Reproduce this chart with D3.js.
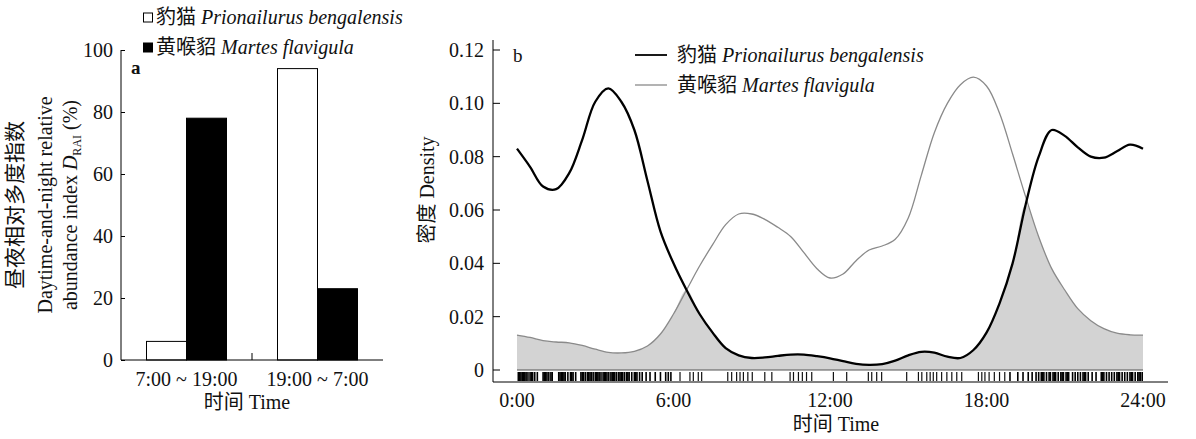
<!DOCTYPE html>
<html>
<head>
<meta charset="utf-8">
<script src="https://cdn.jsdelivr.net/npm/d3@7"></script>
<style>
  body { margin: 0; background: #fff; }
  svg { display: block; }
  text { font-family: "Liberation Serif", "Times New Roman", "Noto Sans CJK SC", serif; fill: #111; }
</style>
</head>
<body>
<svg id="chart" width="1196" height="439"></svg>
<script>
// ---- panel a data ----
const periods = ["7:00 ~ 19:00", "19:00 ~ 7:00"];
const species = ["豹猫", "黄喉貂"];
const speciesLatin = ["Prionailurus bengalensis", "Martes flavigula"];
const leopardRAI = [6, 94];
const martenRAI = [78, 23];
const raiTicks = [0, 20, 40, 60, 80, 100];

// ---- panel b data ----
const hours = [0, 0.5, 1, 1.5, 2, 2.5, 3, 3.5, 4, 4.5, 5, 5.5, 6, 6.5, 7, 7.5, 8, 8.5, 9, 9.5, 10, 10.5, 11, 11.5,
  12, 12.5, 13, 13.5, 14, 14.5, 15, 15.5, 16, 16.5, 17, 17.5, 18, 18.5, 19, 19.5, 20, 20.5, 21, 21.5, 22, 22.5, 23, 23.5, 24];
const leopardDensity = [0.083, 0.0762, 0.0688, 0.0678, 0.0738, 0.0863, 0.1006, 0.1056, 0.1006, 0.090, 0.071, 0.052,
  0.040, 0.030, 0.021, 0.014, 0.0082, 0.0055, 0.0045, 0.0047, 0.0053, 0.0058, 0.0058, 0.0052,
  0.0044, 0.0033, 0.0023, 0.0019, 0.0022, 0.0035, 0.0055, 0.0068, 0.0065, 0.005, 0.0045, 0.0075,
  0.014, 0.025, 0.040, 0.062, 0.080, 0.0900, 0.0878, 0.0835, 0.0800, 0.0796, 0.082, 0.0845, 0.083];
const martenDensity = [0.0131, 0.0122, 0.0110, 0.0105, 0.0102, 0.0092, 0.0078, 0.0066, 0.0064, 0.0070, 0.0090, 0.0135,
  0.021, 0.030, 0.039, 0.047, 0.0545, 0.0585, 0.0585, 0.0565, 0.0535, 0.050, 0.044, 0.038,
  0.0345, 0.036, 0.041, 0.045, 0.0465, 0.049, 0.057, 0.073, 0.089, 0.100, 0.107, 0.1098,
  0.1065, 0.0963, 0.081, 0.065, 0.050, 0.038, 0.030, 0.023, 0.0185, 0.0155, 0.0138, 0.0132, 0.0131];
const leopardTimes = [0.05, 0.1, 0.15, 0.2, 0.25, 0.3, 0.35, 0.42, 0.5, 0.55, 0.6, 0.68, 0.78, 1.0, 1.05, 1.1, 1.15,
  1.22, 1.3, 1.35, 1.6, 1.65, 1.7, 1.75, 1.8, 1.85, 1.95, 2.05, 2.1, 2.15, 2.25, 2.45, 2.5, 2.55, 2.62, 2.7, 2.75,
  2.8, 2.85, 2.92, 3.0, 3.05, 3.1, 3.15, 3.22, 3.3, 3.35, 3.4, 3.45, 3.52, 3.6, 3.65, 3.7, 3.75, 3.82, 3.9, 3.95,
  4.0, 4.05, 4.12, 4.2, 4.25, 4.3, 4.4, 4.5, 4.55, 4.6, 4.7, 4.8, 4.95, 5.1, 5.3, 5.5, 5.7, 5.8, 5.9,
  18.9, 19.2, 19.4, 19.6, 19.75, 19.9, 20.0, 20.1, 20.15, 20.2, 20.3, 20.4, 20.45, 20.55, 20.6, 20.65, 20.75,
  20.85, 20.9, 20.95, 21.05, 21.1, 21.15, 21.3, 21.4, 21.5, 21.6, 21.7, 21.75, 21.8, 21.9, 22.05, 22.2,
  22.4, 22.45, 22.5, 22.6, 22.7, 22.8, 22.9, 23.0, 23.05, 23.1, 23.2, 23.3, 23.4, 23.5, 23.55, 23.6, 23.7,
  23.8, 23.85, 23.9, 23.97];
const martenTimes = [6.25, 6.63, 6.76, 6.95, 7.08, 8.08, 8.23, 8.42, 8.55, 8.68, 8.85, 9.02, 9.5, 9.77,
  10.47, 10.6, 10.79, 10.94, 11.1, 11.3, 12.13, 12.64, 13.47, 13.6, 13.79, 13.98, 14.94, 15.39, 15.52,
  15.71, 15.84, 15.96, 16.09, 16.28, 16.48, 16.67, 16.86, 17.05, 17.69, 17.82, 17.94, 18.1, 18.3, 18.5, 18.7];
const hourTicks = [0, 6, 12, 18, 24];
const hourLabels = ["0:00", "6:00", "12:00", "18:00", "24:00"];
const densityTicks = [0, 0.02, 0.04, 0.06, 0.08, 0.10, 0.12];

let svg = d3.select("#chart");

// ================= panel a =================
let xa = d3.scaleBand().domain(periods).range([121, 383]);
let xaInner = d3.scaleBand().domain(species).range([0, 80]);
let ya = d3.scaleLinear().domain([0, 100]).range([360, 50]);

let gA = svg.append("g");

// y axis, ticks inside
gA.append("g")
    .attr("transform", "translate(121,0)")
    .call(d3.axisRight(ya).tickValues(raiTicks).tickSize(4).tickFormat(""))
    .call(g => g.select(".domain").attr("d", "M0,360V50"));
gA.selectAll(".ylab")
    .data(raiTicks)
    .enter()
    .append("text")
    .attr("x", 113)
    .attr("y", d => ya(d) + 7)
    .attr("text-anchor", "end")
    .style("font-size", "20px")
    .text(d => d);

// bars
let barRows = [];
periods.forEach((p, i) => {
    barRows.push({ period: p, sp: species[0], value: leopardRAI[i] });
    barRows.push({ period: p, sp: species[1], value: martenRAI[i] });
});
gA.append("g")
    .selectAll("rect")
    .data(barRows)
    .enter()
    .append("rect")
    .attr("x", d => xa(d.period) + xa.bandwidth() / 2 - 40 + xaInner(d.sp))
    .attr("y", d => ya(d.value))
    .attr("width", xaInner.bandwidth())
    .attr("height", d => ya(0) - ya(d.value))
    .attr("fill", d => (d.sp === species[0] ? "#fff" : "#000"))
    .attr("stroke", "#000")
    .attr("stroke-width", 1);

// x axis
gA.append("line")
    .attr("x1", 121).attr("x2", 383)
    .attr("y1", 360).attr("y2", 360)
    .attr("stroke", "#000");
gA.append("line")
    .attr("x1", xa(periods[1])).attr("x2", xa(periods[1]))
    .attr("y1", 360).attr("y2", 353)
    .attr("stroke", "#000");
gA.selectAll(".xlab")
    .data(periods)
    .enter()
    .append("text")
    .attr("x", d => xa(d) + xa.bandwidth() / 2)
    .attr("y", 386)
    .attr("text-anchor", "middle")
    .style("font-size", "20px")
    .text(d => d);
gA.append("text")
    .attr("x", 247).attr("y", 409)
    .attr("text-anchor", "middle")
    .style("font-size", "20px")
    .text("时间 Time");

// y title, three lines
let yTitleA = gA.append("g").attr("transform", "translate(0,205) rotate(-90)");
yTitleA.append("text").attr("x", 0).attr("y", 22)
    .attr("text-anchor", "middle").style("font-size", "21px")
    .text("昼夜相对多度指数");
yTitleA.append("text").attr("x", 0).attr("y", 52)
    .attr("text-anchor", "middle").style("font-size", "20px")
    .text("Daytime-and-night relative");
let t3 = yTitleA.append("text").attr("x", 0).attr("y", 77)
    .attr("text-anchor", "middle").style("font-size", "20px");
t3.append("tspan").text("abundance index ");
t3.append("tspan").style("font-style", "italic").text("D");
t3.append("tspan").attr("dy", 4).style("font-size", "12px").text("RAI");
t3.append("tspan").attr("dy", -4).text(" (%)");

gA.append("text")
    .attr("x", 131).attr("y", 74)
    .style("font-size", "19px")
    .style("font-weight", "bold")
    .text("a");

// legend a
let legA = gA.append("g");
[0, 1].forEach(i => {
    let y = 18 + i * 30;
    legA.append("rect")
        .attr("x", 143.5).attr("y", y - 5)
        .attr("width", 9).attr("height", 9)
        .attr("fill", i === 0 ? "#fff" : "#000")
        .attr("stroke", "#000");
    let t = legA.append("text")
        .attr("x", 156).attr("y", y + 6)
        .style("font-size", "20px");
    t.append("tspan").text(species[i] + " ");
    t.append("tspan").style("font-style", "italic").text(speciesLatin[i]);
});

// ================= panel b =================
let xb = d3.scaleLinear().domain([0, 24]).range([517, 1143]);
let yb = d3.scaleLinear().domain([0, 0.12]).range([370, 50]);

let gB = svg.append("g");

let leopardPts = hours.map((h, i) => ({ h: h, v: leopardDensity[i] }));
let martenPts = hours.map((h, i) => ({ h: h, v: martenDensity[i] }));
let overlapPts = hours.map((h, i) => ({ h: h, v: Math.min(leopardDensity[i], martenDensity[i]) }));

let smooth = d3.curveCatmullRom.alpha(0.5);

// overlap area
gB.append("path")
    .datum(overlapPts)
    .attr("fill", "#d3d3d3")
    .attr("d", d3.area()
        .x(d => xb(d.h))
        .y0(yb(0))
        .y1(d => yb(d.v))
        .curve(smooth));

// zero line
gB.append("line")
    .attr("x1", xb(0)).attr("x2", xb(24))
    .attr("y1", yb(0)).attr("y2", yb(0))
    .attr("stroke", "#555").attr("stroke-width", 1);

let line = d3.line()
    .x(d => xb(d.h))
    .y(d => yb(d.v))
    .curve(smooth);

gB.append("path")
    .datum(martenPts)
    .attr("fill", "none")
    .attr("stroke", "#8a8a8a")
    .attr("stroke-width", 1.3)
    .attr("d", line);

gB.append("path")
    .datum(leopardPts)
    .attr("fill", "none")
    .attr("stroke", "#000")
    .attr("stroke-width", 2.3)
    .attr("d", line);

// rug
gB.append("g")
    .selectAll("line")
    .data(leopardTimes)
    .enter()
    .append("line")
    .attr("x1", d => xb(d)).attr("x2", d => xb(d))
    .attr("y1", 372).attr("y2", 381)
    .attr("stroke", "#000")
    .attr("stroke-width", 1.6);
gB.append("g")
    .selectAll("line")
    .data(martenTimes)
    .enter()
    .append("line")
    .attr("x1", d => xb(d)).attr("x2", d => xb(d))
    .attr("y1", 372).attr("y2", 381)
    .attr("stroke", "#111")
    .attr("stroke-width", 1.2);

// y axis
gB.append("line")
    .attr("x1", 493).attr("x2", 493)
    .attr("y1", 40).attr("y2", 382)
    .attr("stroke", "#000");
gB.append("g")
    .selectAll("line")
    .data(densityTicks)
    .enter()
    .append("line")
    .attr("x1", 493).attr("x2", 500)
    .attr("y1", d => yb(d)).attr("y2", d => yb(d))
    .attr("stroke", "#000");
gB.selectAll(".ylabb")
    .data(densityTicks)
    .enter()
    .append("text")
    .attr("x", 484)
    .attr("y", d => yb(d) + 7)
    .attr("text-anchor", "end")
    .style("font-size", "20px")
    .text(d => (d === 0 ? "0" : d3.format(".2f")(d)));

// x axis
gB.append("line")
    .attr("x1", 493).attr("x2", 1168)
    .attr("y1", 382).attr("y2", 382)
    .attr("stroke", "#000");
gB.selectAll(".xlabb")
    .data(hourTicks)
    .enter()
    .append("text")
    .attr("x", d => xb(d))
    .attr("y", 407)
    .attr("text-anchor", "middle")
    .style("font-size", "20px")
    .text((d, i) => hourLabels[i]);
gB.append("text")
    .attr("x", 836).attr("y", 431)
    .attr("text-anchor", "middle")
    .style("font-size", "20px")
    .text("时间 Time");

gB.append("text")
    .attr("transform", "translate(434,190) rotate(-90)")
    .attr("text-anchor", "middle")
    .style("font-size", "20px")
    .text("密度 Density");

gB.append("text")
    .attr("x", 513).attr("y", 62)
    .style("font-size", "19px")
    .text("b");

// legend b
[0, 1].forEach(i => {
    let y = 55 + i * 30;
    gB.append("line")
        .attr("x1", 635).attr("x2", 667)
        .attr("y1", y).attr("y2", y)
        .attr("stroke", i === 0 ? "#000" : "#8a8a8a")
        .attr("stroke-width", i === 0 ? 1.8 : 1.3);
    let t = gB.append("text")
        .attr("x", 677).attr("y", y + 7)
        .style("font-size", "20px");
    t.append("tspan").text(species[i] + " ");
    t.append("tspan").style("font-style", "italic").text(speciesLatin[i]);
});
</script>
</body>
</html>
